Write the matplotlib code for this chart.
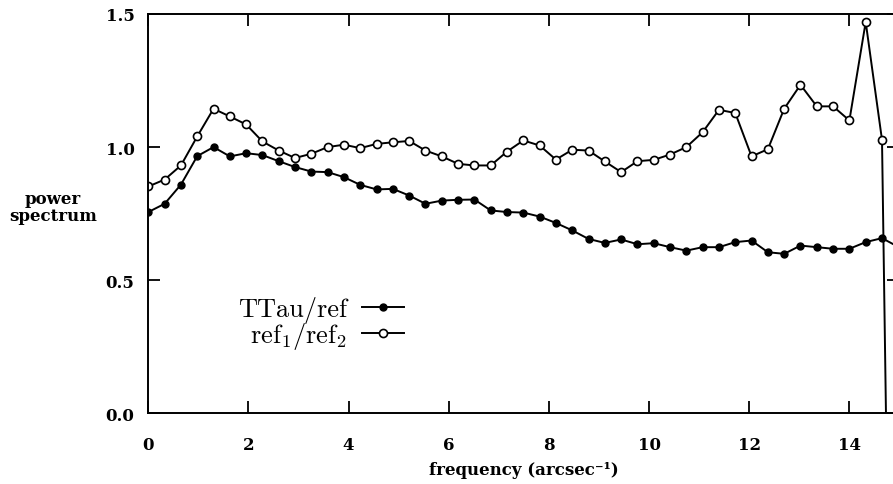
import matplotlib
matplotlib.use("Agg")
import matplotlib.pyplot as plt
import numpy as np

# frequency sampling (arcsec^-1) and the two ratio spectra
FREQ_STEP = 0.3256
ttau_ref = [
    0.756, 0.787, 0.859, 0.966, 1.000, 0.965, 0.977, 0.970,
    0.947, 0.925, 0.908, 0.906, 0.887, 0.858, 0.841, 0.843,
    0.818, 0.787, 0.799, 0.802, 0.803, 0.762, 0.756, 0.754,
    0.739, 0.715, 0.687, 0.655, 0.640, 0.653, 0.635, 0.639,
    0.624, 0.611, 0.624, 0.624, 0.643, 0.649, 0.605, 0.599,
    0.630, 0.624, 0.618, 0.618, 0.643, 0.658, 0.625,
]
ref1_ref2 = [
    0.852, 0.878, 0.931, 1.040, 1.144, 1.115, 1.085, 1.021,
    0.987, 0.959, 0.975, 1.000, 1.009, 0.996, 1.012, 1.018,
    1.023, 0.987, 0.965, 0.937, 0.931, 0.931, 0.983, 1.025,
    1.006, 0.953, 0.990, 0.987, 0.946, 0.906, 0.947, 0.952,
    0.972, 1.000, 1.056, 1.140, 1.128, 0.965, 0.992, 1.144,
    1.234, 1.153, 1.153, 1.100, 1.470, 1.027, -3.2,
]
freq = np.arange(len(ttau_ref)) * FREQ_STEP

x_ticks = [0, 2, 4, 6, 8, 10, 12, 14]
y_ticks = [0.0, 0.5, 1.0, 1.5]

LABEL_FONT = {"family": "DejaVu Serif", "weight": "bold", "size": 12}

plt.rcParams.update(
    {
        "mathtext.fontset": "cm",
        "axes.unicode_minus": False,
        "axes.linewidth": 1.4,
    }
)

fig = plt.figure(figsize=(8.93, 4.85), dpi=100)
ax = fig.add_axes([0.1661, 0.1458, 0.8411, 0.8233])

ax.plot(freq, ttau_ref, color="black", lw=1.4, marker="o", ms=5.0,
        mfc="black", mec="black", label="TTau/ref")
ax.plot(freq, ref1_ref2, color="black", lw=1.4, marker="o", ms=5.8,
        mfc="white", mec="black", mew=1.2, label=r"ref$_1$/ref$_2$")

ax.set_xlim(0, 15)
ax.set_ylim(0, 1.5)
ax.set_xticks(x_ticks)
ax.set_yticks(y_ticks)
ax.set_xticklabels([str(t) for t in x_ticks], fontdict=LABEL_FONT)
ax.set_yticklabels([f"{t:.1f}" for t in y_ticks], fontdict=LABEL_FONT)
ax.tick_params(axis="both", direction="in", length=8.6, width=1.3,
               top=True, right=True)
ax.tick_params(axis="x", pad=16)
ax.tick_params(axis="y", pad=10)

ax.set_xlabel("frequency (arcsec\u207b\u00b9)", fontdict=LABEL_FONT, va="center")
ax.xaxis.set_label_coords(0.5, -0.142)
ax.set_ylabel("power\nspectrum", fontdict=LABEL_FONT, rotation=0,
              ha="center", va="center", linespacing=0.95)
ax.yaxis.set_label_coords(-0.127, 0.517)

leg = ax.legend(loc="center left", bbox_to_anchor=(0.088, 0.225),
                frameon=False, markerfirst=False, handlelength=1.6,
                handletextpad=0.55, labelspacing=-0.1,
                prop={"family": "cmr10", "size": 19})

fig.savefig("out.png", dpi=100)
